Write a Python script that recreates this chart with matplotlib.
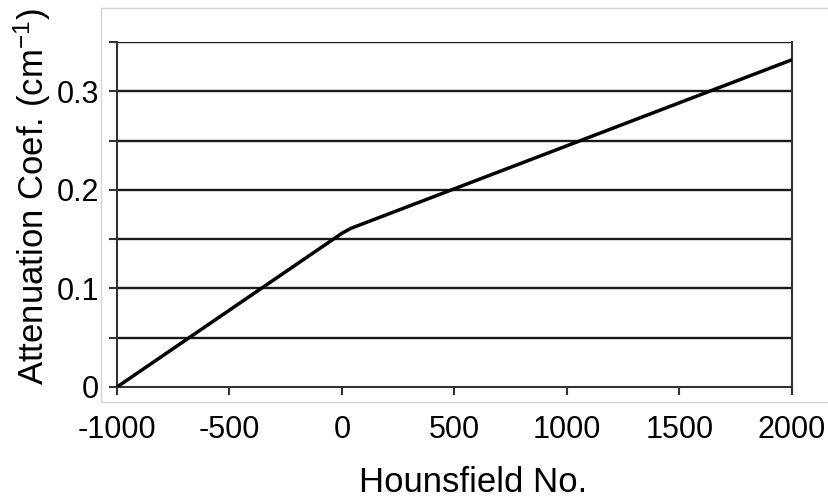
import numpy as np
import matplotlib
matplotlib.use("Agg")
import matplotlib.pyplot as plt
from matplotlib.patches import Rectangle

plt.rcParams['font.family'] = ['Liberation Sans', 'DejaVu Sans']
plt.rcParams['mathtext.fontset'] = 'custom'
plt.rcParams['mathtext.rm'] = 'Liberation Sans'
plt.rcParams['mathtext.it'] = 'Liberation Sans'

# bilinear HU -> attenuation curve
hu = [-1000, 0, 40, 2000]
mu = [0.0, 0.156, 0.161, 0.332]

x_ticks = [-1000, -500, 0, 500, 1000, 1500, 2000]
y_major = [0.0, 0.1, 0.2, 0.3]
y_minor = [0.05, 0.15, 0.25, 0.35]
y_labels = ['0', '0.1', '0.2', '0.3']

fig = plt.figure(figsize=(8.29, 5.0), dpi=100)

# light gray chart-area frame
fig.patches.append(Rectangle((101 / 829, 1 - 402 / 500), 740 / 829, 394 / 500,
                             transform=fig.transFigure, fill=False,
                             edgecolor='#d4d4d4', linewidth=1.0))

ax = fig.add_axes([117 / 829, 1 - 387 / 500, 675 / 829, 345 / 500])

for y in y_major[1:] + y_minor:
    ax.axhline(y, color='#1a1a1a', linewidth=1.7, zorder=1)

ax.plot(hu, mu, color='black', linewidth=2.5, solid_capstyle='round', zorder=3)

ax.set_xlim(-1000, 2000)
ax.set_ylim(0, 0.35)
ax.set_xticks(x_ticks)
ax.set_xticklabels([str(t) for t in x_ticks])
ax.set_yticks(y_major)
ax.set_yticklabels(y_labels)
ax.set_yticks(y_minor, minor=True)

for s in ['left', 'bottom', 'right']:
    ax.spines[s].set_color('#333333')
    ax.spines[s].set_linewidth(1.5)
ax.spines['top'].set_visible(False)

ax.tick_params(axis='x', which='major', direction='out', length=6, width=1.5,
               color='#333333', labelsize=22, pad=14)
ax.tick_params(axis='y', which='both', direction='out', length=6, width=1.5,
               color='#333333', labelsize=22, pad=7)

fig.text(473 / 829, 1 - 482 / 500, 'Hounsfield No.', fontsize=25,
         ha='center', va='center')
fig.text(32 / 829, 1 - 197 / 500, r'Attenuation Coef. (cm$^{-1}$)', fontsize=25,
         ha='center', va='center', rotation=90)

fig.savefig('out.png', dpi=100)
